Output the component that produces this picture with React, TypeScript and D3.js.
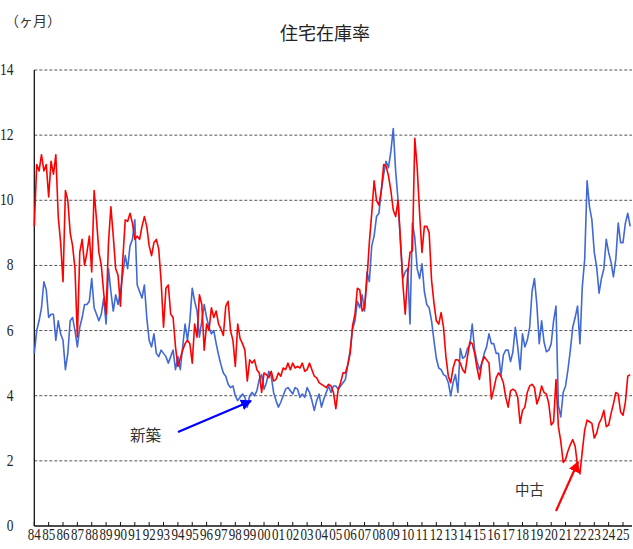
import React from 'react';
import * as d3 from 'd3';

// 住宅在庫率 (months of inventory), bimonthly readings from Jan 1984
const startYear = 1984;
const pointsPerYear = 6;

// 新築 (new homes)
const shinchiku = [
  5.3, 6.0, 6.3, 6.7, 7.5, 7.25, // 84
  6.4, 6.5, 6.5, 5.7, 6.3, 5.9, // 85
  5.7, 4.8, 5.3, 6.3, 6.4, 6.0, // 86
  5.5, 6.1, 6.4, 6.8, 6.8, 6.9, // 87
  7.6, 6.7, 6.5, 6.3, 6.5, 7.0, // 88
  6.2, 7.9, 7.2, 6.6, 7.1, 6.8, // 89
  7.2, 7.75, 8.3, 7.9, 8.6, 8.8, // 90
  9.4, 7.4, 7.2, 7.0, 7.4, 6.4, // 91
  5.7, 5.5, 5.9, 5.3, 5.2, 5.4, // 92
  5.3, 5.2, 5.0, 5.2, 5.4, 4.8, // 93
  5.2, 4.8, 5.5, 6.2, 5.7, 6.3, // 94
  7.3, 6.9, 6.6, 5.8, 6.3, 6.8, // 95
  6.4, 6.1, 5.9, 6.0, 5.6, 5.25, // 96
  4.95, 4.7, 4.6, 4.35, 4.25, 4.3, // 97
  4.0, 3.85, 3.95, 4.05, 3.95, 3.65, // 98
  4.0, 4.1, 4.0, 4.15, 4.5, 4.65, // 99
  4.2, 4.4, 4.75, 4.6, 4.1, 3.85, // 00
  3.65, 3.8, 4.0, 4.2, 4.25, 4.15, // 01
  4.05, 4.25, 4.2, 3.95, 4.05, 3.95, // 02
  4.25, 4.1, 3.85, 3.55, 3.85, 4.05, // 03
  3.65, 3.9, 4.1, 4.3, 4.1, 4.3, // 04
  4.3, 4.2, 4.3, 4.4, 4.5, 4.95, // 05
  5.4, 6.05, 6.3, 6.9, 6.7, 7.1, // 06
  6.6, 7.8, 7.5, 8.6, 8.9, 9.5, // 07
  9.6, 10.3, 10.8, 11.2, 11.0, 11.5, // 08
  12.2, 10.9, 10.0, 8.7, 7.6, 7.8, // 09
  7.9, 6.2, 9.3, 8.85, 7.9, 7.6, // 10
  8.05, 7.2, 6.8, 6.7, 6.3, 5.7, // 11
  5.15, 4.85, 4.8, 4.65, 4.6, 4.4, // 12
  4.0, 4.4, 4.65, 4.1, 5.45, 5.15, // 13
  5.2, 5.45, 5.55, 6.2, 5.4, 5.05, // 14
  4.8, 5.0, 5.3, 5.5, 5.9, 5.6, // 15
  5.6, 5.3, 5.3, 4.6, 5.25, 5.4, // 16
  5.4, 5.05, 5.35, 6.1, 5.5, 4.8, // 17
  5.9, 5.5, 5.7, 6.1, 7.2, 7.6, // 18
  6.8, 5.6, 6.3, 5.65, 5.35, 5.4, // 19
  5.6, 6.3, 6.75, 3.7, 3.35, 4.1, // 20
  4.3, 4.8, 5.4, 6.1, 6.4, 6.75, // 21
  5.6, 7.35, 8.2, 10.6, 9.8, 9.4, // 22
  8.4, 7.95, 7.15, 7.6, 7.9, 8.8, // 23
  8.4, 8.1, 7.65, 8.2, 9.3, 8.7, // 24
  8.7, 9.3, 9.6, 9.2, // 25
];

// 中古 (existing homes)
const chuko = [
  9.2, 11.1, 10.9, 11.4, 10.9, 11.1, // 84
  10.1, 11.2, 10.8, 11.4, 9.5, 8.7, // 85
  7.5, 10.3, 10.0, 9.0, 8.6, 7.9, // 86
  5.8, 8.4, 8.8, 8.0, 8.4, 8.9, // 87
  7.8, 10.3, 9.4, 8.4, 8.0, 7.15, // 88
  6.5, 8.7, 9.8, 8.9, 7.9, 7.7, // 89
  6.75, 8.2, 9.4, 9.35, 9.6, 9.3, // 90
  8.8, 8.9, 8.8, 9.2, 9.5, 9.2, // 91
  8.6, 8.3, 8.7, 8.8, 8.5, 7.5, // 92
  6.1, 7.3, 7.4, 6.5, 6.4, 5.5, // 93
  4.9, 5.15, 5.4, 5.6, 5.7, 5.6, // 94
  5.0, 6.2, 5.8, 7.1, 6.8, 5.4, // 95
  6.2, 6.0, 6.7, 6.4, 6.6, 6.2, // 96
  6.05, 5.85, 6.75, 6.9, 6.0, 5.7, // 97
  4.9, 6.2, 5.75, 5.6, 5.4, 4.45, // 98
  5.1, 5.0, 5.1, 4.8, 4.7, 4.1, // 99
  4.7, 4.65, 4.55, 4.75, 4.45, 4.5, // 00
  4.7, 4.6, 4.85, 4.8, 5.0, 4.8, // 01
  5.0, 4.85, 4.9, 4.85, 5.0, 4.75, // 02
  4.8, 5.0, 4.8, 4.6, 4.55, 4.4, // 03
  4.35, 4.3, 4.25, 4.35, 4.3, 4.1, // 04
  3.6, 4.2, 4.4, 4.7, 4.7, 4.95, // 05
  5.3, 6.15, 6.5, 7.3, 7.25, 6.6, // 06
  6.7, 7.55, 8.7, 9.6, 10.6, 10.0, // 07
  9.85, 10.3, 11.1, 11.05, 10.75, 10.3, // 08
  9.7, 9.5, 10.0, 8.8, 7.45, 6.5, // 09
  7.7, 8.4, 8.45, 11.9, 11.0, 9.6, // 10
  8.4, 9.2, 9.2, 9.0, 7.55, 6.85, // 11
  6.3, 6.2, 6.55, 6.1, 5.2, 4.6, // 12
  4.4, 4.85, 5.1, 5.1, 5.0, 4.8, // 13
  4.7, 5.2, 5.65, 5.6, 5.3, 4.85, // 14
  4.5, 5.0, 5.2, 5.1, 5.0, 3.9, // 15
  4.2, 4.55, 4.7, 4.6, 4.4, 3.95, // 16
  3.65, 4.15, 4.2, 4.15, 3.95, 3.15, // 17
  3.55, 3.65, 4.1, 4.3, 4.35, 4.25, // 18
  3.75, 3.95, 4.3, 4.1, 4.05, 3.75, // 19
  3.1, 3.2, 4.5, 3.05, 2.6, 1.95, // 20
  2.05, 2.3, 2.5, 2.65, 2.45, 1.85, // 21
  1.6, 2.3, 2.95, 3.25, 3.2, 3.15, // 22
  2.7, 2.85, 3.15, 3.3, 3.55, 3.05, // 23
  3.1, 3.45, 3.75, 4.1, 4.05, 3.5, // 24
  3.4, 3.8, 4.6, 4.65, // 25
];

const xTickYears = d3.range(1984, 2026);
const yTicks = [0, 2, 4, 6, 8, 10, 12, 14];

const W = 633;
const H = 549;
const jp = '"Noto Sans CJK JP", sans-serif';
const num = '"Liberation Serif", "DejaVu Serif", serif';

export default function App() {
  const x = d3.scaleLinear().domain([1984, 2025]).range([34.3, 623]);
  const y = d3.scaleLinear().domain([0, 14]).range([526, 70]);
  const gridRight = 632;

  const line = d3
    .line<number>()
    .x((_, i) => x(startYear + i / pointsPerYear))
    .y(d => y(d));

  return (
    <svg
      width={W}
      height={H}
      style={{ position: 'absolute', left: 0, top: 0, background: '#fff' }}
    >
      <defs>
        <marker id="arrBlue" viewBox="0 0 10 10" refX="9" refY="5" markerWidth="5" markerHeight="5" orient="auto">
          <path d="M0,0 L10,5 L0,10 z" fill="#0000ff" />
        </marker>
        <marker id="arrRed" viewBox="0 0 10 10" refX="9" refY="5" markerWidth="5" markerHeight="5" orient="auto">
          <path d="M0,0 L10,5 L0,10 z" fill="#ff0000" />
        </marker>
      </defs>

      {/* title & unit */}
      <text x={325} y={40} textAnchor="middle" fontFamily={jp} fontSize={18} fill="#222">
        住宅在庫率
      </text>
      <text x={5} y={26} fontFamily={jp} fontSize={14} fill="#333">
        （ヶ月）
      </text>

      {/* gridlines */}
      {yTicks.filter(t => t > 0).map(t => (
        <line
          key={t}
          x1={x(1984)}
          x2={gridRight}
          y1={y(t)}
          y2={y(t)}
          stroke="#555"
          strokeWidth={1}
          strokeDasharray="3,2"
        />
      ))}

      {/* y labels */}
      {yTicks.map(t => (
        <text
          key={t}
          transform={`translate(13.5,${y(t) + 5}) scale(1,1.22)`}
          textAnchor="end"
          fontFamily={num}
          fontSize={13.5}
          fill="#222"
        >
          {t}
        </text>
      ))}

      {/* axes */}
      <line x1={x(1984)} x2={x(1984)} y1={y(14)} y2={y(0)} stroke="#111" strokeWidth={1.3} />
      <line x1={x(1984)} x2={gridRight} y1={y(0)} y2={y(0)} stroke="#111" strokeWidth={1.3} />

      {/* x ticks & labels */}
      {xTickYears.map(yr => (
        <g key={yr}>
          <line x1={x(yr)} x2={x(yr)} y1={y(0)} y2={y(0) - 4} stroke="#111" strokeWidth={1} />
          <text
            transform={`translate(${x(yr)},540) scale(1,1.25)`}
            textAnchor="middle"
            fontFamily={num}
            fontSize={13}
            fill="#222"
          >
            {String(yr % 100).padStart(2, '0')}
          </text>
        </g>
      ))}

      {/* series */}
      <path d={line(shinchiku) || ''} fill="none" stroke="#4169d6" strokeWidth={1.6} strokeLinejoin="round" />
      <path d={line(chuko) || ''} fill="none" stroke="#ff0000" strokeWidth={1.6} strokeLinejoin="round" />

      {/* annotations */}
      <text x={130} y={441} fontFamily={jp} fontSize={15.5} fill="#333">
        新築
      </text>
      <line x1={178} y1={432} x2={251} y2={401} stroke="#0000ff" strokeWidth={2.2} markerEnd="url(#arrBlue)" />
      <text x={515} y={495} fontFamily={jp} fontSize={14.5} fill="#333">
        中古
      </text>
      <line x1={556} y1={511} x2={578} y2={462} stroke="#ff0000" strokeWidth={2.2} markerEnd="url(#arrRed)" />
    </svg>
  );
}
